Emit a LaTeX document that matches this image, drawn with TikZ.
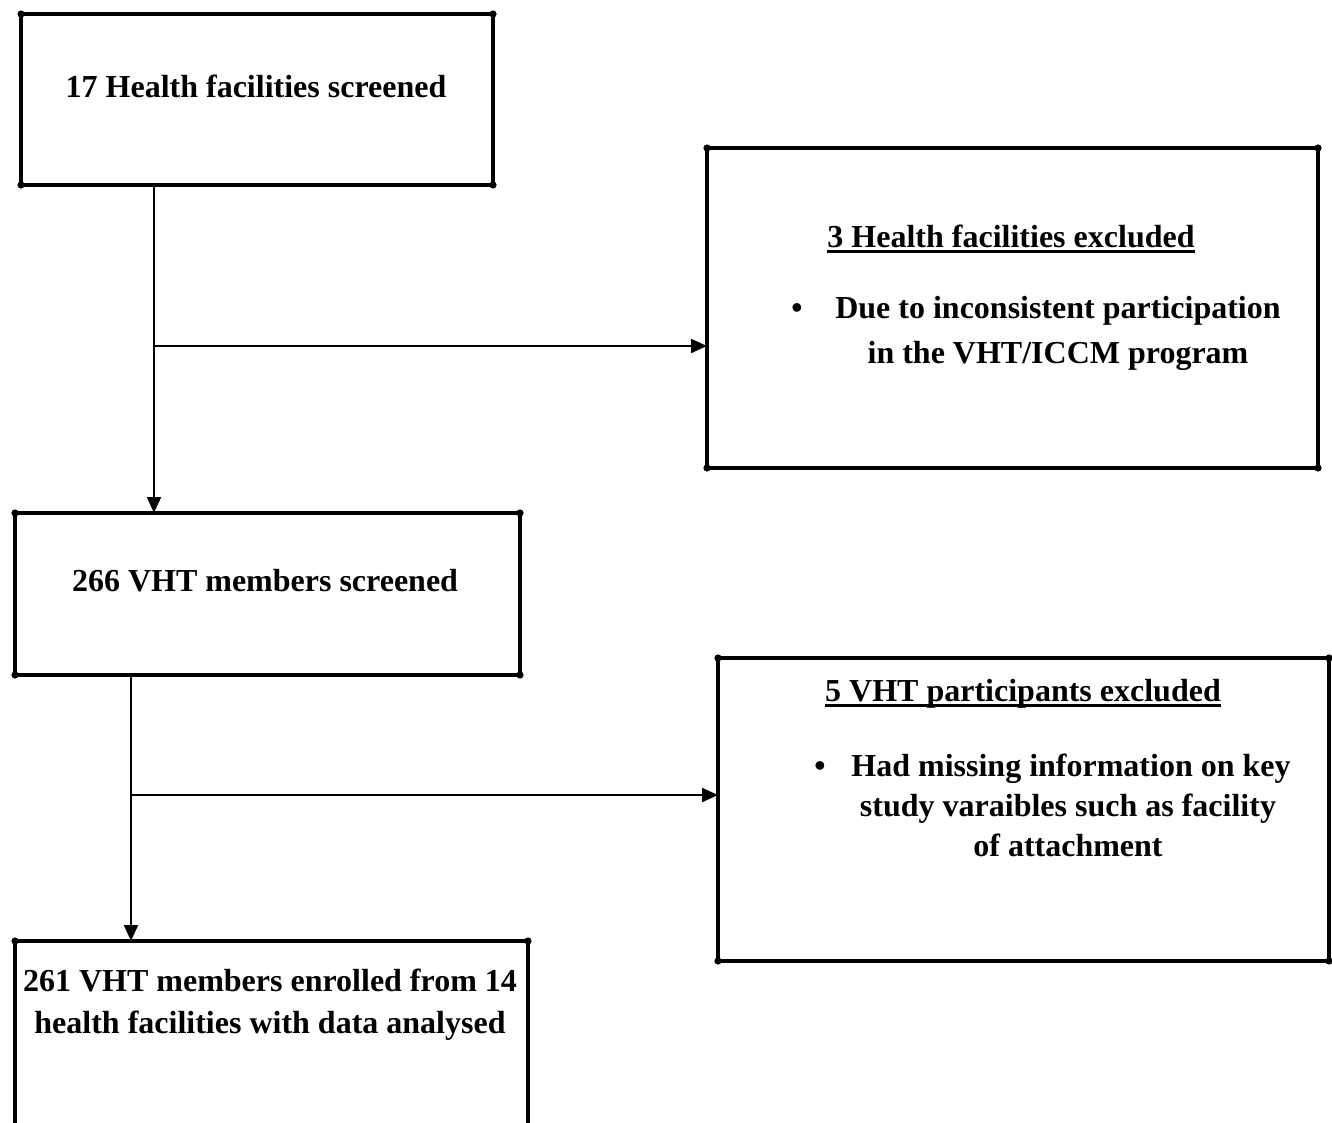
\documentclass[tikz,border=0pt]{standalone}
\usepackage{fontspec}
\setmainfont{Liberation Serif}
\usetikzlibrary{arrows.meta}
\newcommand\myul[1]{\setbox0\hbox{#1}\rlap{\rule[-6pt]{\wd0}{2.8pt}}\box0}
\begin{document}
\begin{tikzpicture}[x=1pt,y=-1pt,
  box/.style={draw, line width=3.8pt, rectangle, inner sep=0pt, outer sep=0pt},
  txt/.style={font=\fontsize{32}{40}\selectfont\bfseries, inner sep=0pt, anchor=base},
  arr/.style={line width=2pt, -{Triangle[length=16pt,width=14pt]}}]
\useasboundingbox (0,0) rectangle (1332,1122);
\clip (0,0) rectangle (1332,1122);
% boxes
\node[box, minimum width=472pt, minimum height=171pt] (b1) at (257,99.5) {};
\node[box, minimum width=611pt, minimum height=320pt] (b2) at (1012.5,308) {};
\node[box, minimum width=505pt, minimum height=162pt] (b3) at (267.5,594) {};
\node[box, minimum width=611pt, minimum height=303pt] (b4) at (1023.5,809.5) {};
\node[box, minimum width=513pt, minimum height=200pt] (b5) at (271.5,1041) {};
\foreach \b in {b1,b2,b3,b4,b5}
  \foreach \a in {north west,north east,south west,south east}
    \fill (\b.\a) circle (3.6pt);
% texts
\node[txt] (t1) at (256,97) {17 Health facilities screened};
\node[txt] (t2) at (1011,247) {\myul{3 Health facilities excluded}};
\node[txt] (t2b) at (797,318) {•};
\node[txt] (t2c) at (1058,318) {Due to inconsistent participation};
\node[txt] (t2d) at (1058,363) {in the VHT/ICCM program};
\node[txt] (t3) at (265,591) {266 VHT members screened};
\node[txt] (t4) at (1023,701) {\myul{5 VHT participants excluded}};
\node[txt] (t4b) at (820,776) {•};
\node[txt] (t4c) at (1071,776) {Had missing information on key};
\node[txt] (t4d) at (1068,816) {study varaibles such as facility};
\node[txt] (t4e) at (1068,856) {of attachment};
\node[txt] (t5) at (270,991) {261 VHT members enrolled from 14};
\node[txt] (t5b) at (270,1033) {health facilities with data analysed};
% connectors
\coordinate (j1) at (154,346);
\coordinate (j2) at (131,795);
\draw[arr] (b1.south -| j1) -- (b3.north -| j1);
\draw[arr] (j1) -- (j1 -| b2.west);
\draw[arr] (b3.south -| j2) -- (b5.north -| j2);
\draw[arr] (j2) -- (j2 -| b4.west);
\end{tikzpicture}
\end{document}
